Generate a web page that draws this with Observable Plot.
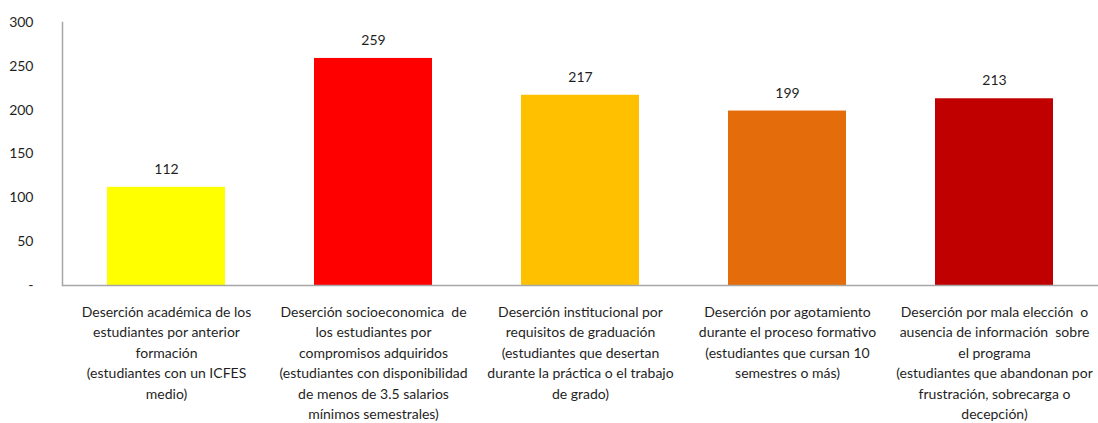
<!DOCTYPE html>
<html>
<head>
<meta charset="utf-8">
<script src="https://cdn.jsdelivr.net/npm/d3@7"></script>
<script src="https://cdn.jsdelivr.net/npm/@observablehq/plot@0.6"></script>
<style>
  html, body { margin: 0; padding: 0; background: #fff; }
  #chart svg { display: block; }
</style>
</head>
<body>
<div id="chart"></div>
<script>
const categories = [
  "Deserción académica de los\nestudiantes por anterior\nformación\n(estudiantes con un ICFES\nmedio)",
  "Deserción socioeconomica  de\nlos estudiantes por\ncompromisos adquiridos\n(estudiantes con disponibilidad\nde menos de 3.5 salarios\nmínimos semestrales)",
  "Deserción institucional por\nrequisitos de graduación\n(estudiantes que desertan\ndurante la práctica o el trabajo\nde grado)",
  "Deserción por agotamiento\ndurante el proceso formativo\n(estudiantes que cursan 10\nsemestres o más)",
  "Deserción por mala elección  o\nausencia de información  sobre\nel programa\n(estudiantes que abandonan por\nfrustración, sobrecarga o\ndecepción)"
];
const values = [112, 259, 217, 199, 213];
const colors = ["#FFFF00", "#FF0000", "#FFC000", "#E46C0A", "#C00000"];
const yTicks = [0, 50, 100, 150, 200, 250, 300];

const data = categories.map((c, i) => ({category: c, value: values[i], color: colors[i]}));

const font = "Lato, 'Open Sans', sans-serif";
const textColor = "#1f1f1f";

const chart = Plot.plot({
  width: 1098,
  height: 423,
  marginTop: 22,
  marginBottom: 138,
  marginLeft: 62,
  marginRight: 0,
  style: {fontFamily: font, fontSize: "14px", color: textColor, background: "#fff"},
  x: {domain: categories, paddingInner: 0.43, paddingOuter: 0.215, axis: null},
  y: {domain: [0, 300], axis: null},
  marks: [
    Plot.barY(data, {x: "category", y: "value", fill: "color"}),
    Plot.axisY({ticks: yTicks, tickSize: 0, tickPadding: 29, label: null, tickFormat: d => d === 0 ? "-" : d, fontSize: 14, fill: textColor}),
    Plot.frame({anchor: "left", stroke: "#a6a6a6", strokeWidth: 1.5}),
    Plot.ruleY([0], {stroke: "#a6a6a6", strokeWidth: 1.5}),
    Plot.text(data, {x: "category", y: "value", text: d => String(d.value), dy: -18, fontSize: 14, fill: textColor}),
    Plot.text(data, {x: "category", y: () => 0, text: "category", lineAnchor: "top", dy: 17, fontSize: 14, lineHeight: 1.46, fill: textColor})
  ]
});
document.getElementById("chart").appendChild(chart);
</script>
</body>
</html>
